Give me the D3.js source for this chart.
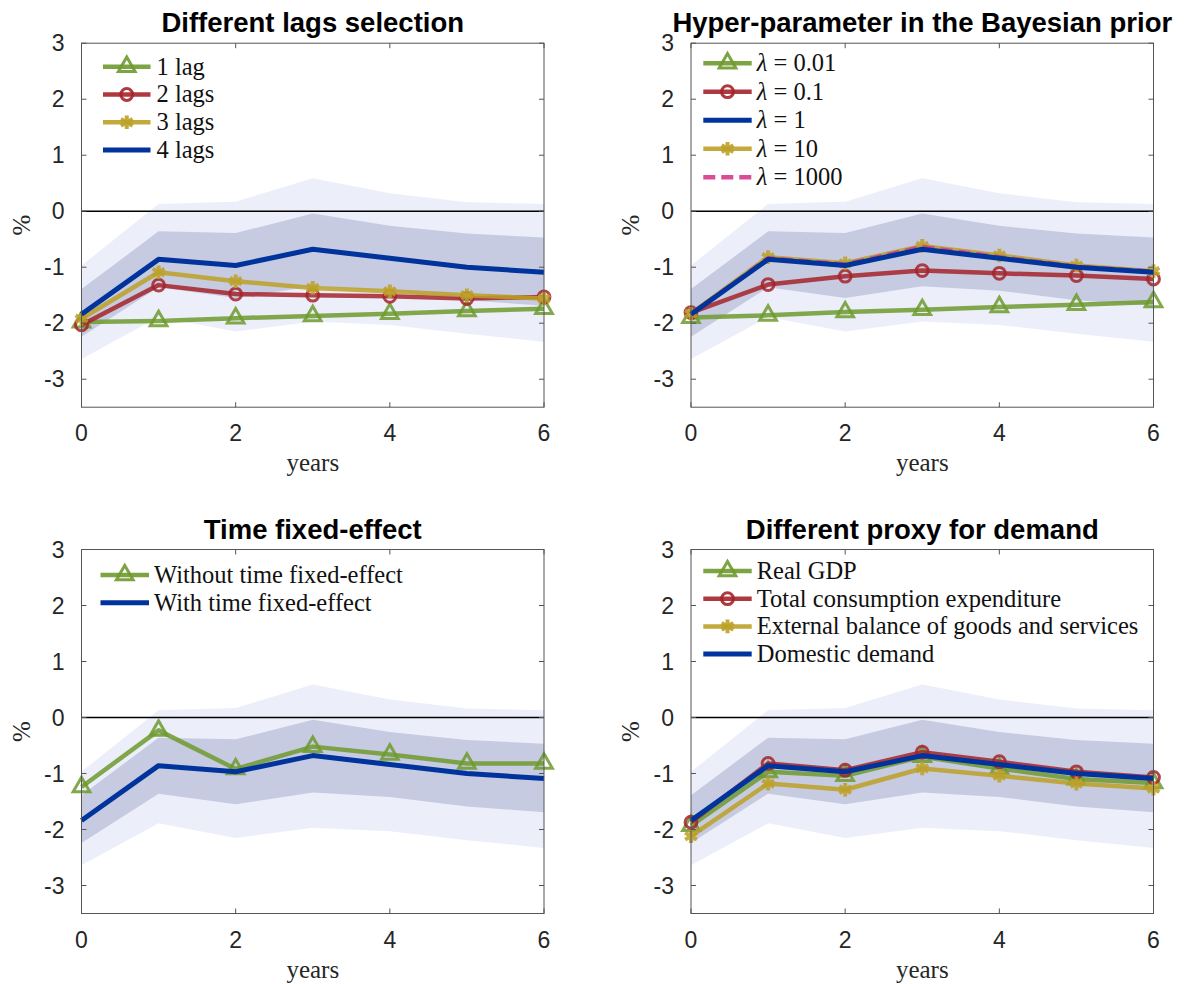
<!DOCTYPE html>
<html>
<head>
<meta charset="utf-8">
<script src="https://cdn.jsdelivr.net/npm/d3@7/dist/d3.min.js"></script>
<style>
  body { margin: 0; background: #fff; }
</style>
</head>
<body>
<svg id="chart" width="1190" height="984"></svg>
<script>
// horizon in years
let years = [0, 1, 2, 3, 4, 5, 6];
let xTicks = [0, 2, 4, 6];
let yTicks = [-3, -2, -1, 0, 1, 2, 3];

// baseline (blue) and its confidence bands, same in every panel
let baseline   = [-1.84, -0.86, -0.97, -0.68, -0.84, -1.00, -1.09];
let innerUpper = [-1.39, -0.36, -0.39, -0.04, -0.26, -0.40, -0.47];
let innerLower = [-2.24, -1.36, -1.55, -1.34, -1.42, -1.59, -1.69];
let outerUpper = [-0.97,  0.13,  0.17,  0.59,  0.32,  0.16,  0.13];
let outerLower = [-2.64, -1.89, -2.15, -1.97, -2.03, -2.19, -2.33];

// panel 1 : lags
let lag1 = [-1.98, -1.96, -1.91, -1.87, -1.83, -1.78, -1.74];
let lag2 = [-2.03, -1.32, -1.48, -1.50, -1.52, -1.56, -1.53];
let lag3 = [-1.92, -1.09, -1.25, -1.37, -1.43, -1.50, -1.56];

// panel 2 : lambda
let lam001  = [-1.90, -1.86, -1.80, -1.76, -1.71, -1.67, -1.62];
let lam01   = [-1.81, -1.31, -1.16, -1.06, -1.11, -1.15, -1.21];
let lam10   = [-1.83, -0.82, -0.93, -0.62, -0.79, -0.97, -1.07];
let lam1000 = [-1.84, -0.84, -0.95, -0.64, -0.82, -0.99, -1.08];

// panel 3 : time fixed effect
let noTimeFE = [-1.24, -0.23, -0.92, -0.52, -0.66, -0.82, -0.82];

// panel 4 : demand proxies
let realGDP   = [-1.93, -0.97, -1.04, -0.70, -0.91, -1.10, -1.17];
let totalCons = [-1.87, -0.82, -0.94, -0.62, -0.79, -0.97, -1.07];
let extBal    = [-2.12, -1.18, -1.29, -0.91, -1.04, -1.18, -1.27];

let green = "#6f9a2e", red = "#a5232a", gold = "#bca127", blue = "#00349c", pink = "#d8378a";

let panels = [
  {title: "Different lags selection", left: 81.5, top: 43.2,
   leg: {x1: 21.5, x2: 69, tx: 75, y0: 23.5, dy: 27.8},
   series: [
     {name: "1 lag", v: lag1, c: green, m: "tri"},
     {name: "2 lags", v: lag2, c: red, m: "circ"},
     {name: "3 lags", v: lag3, c: gold, m: "star"},
     {name: "4 lags", v: baseline, c: blue, m: null, base: true}
   ]},
  {title: "Hyper-parameter in the Bayesian prior", left: 691, top: 43.2,
   leg: {x1: 12.3, x2: 60.7, tx: 65.7, y0: 20, dy: 28.5},
   series: [
     {name: "0.01", lam: true, v: lam001, c: green, m: "tri"},
     {name: "0.1", lam: true, v: lam01, c: red, m: "circ"},
     {name: "1", lam: true, v: baseline, c: blue, m: null, base: true},
     {name: "10", lam: true, v: lam10, c: gold, m: "star"},
     {name: "1000", lam: true, v: lam1000, c: pink, m: null, dash: true}
   ]},
  {title: "Time fixed-effect", left: 81.5, top: 549.5,
   leg: {x1: 19, x2: 67.5, tx: 72.5, y0: 25.5, dy: 27.7},
   series: [
     {name: "Without time fixed-effect", v: noTimeFE, c: green, m: "tri"},
     {name: "With time fixed-effect", v: baseline, c: blue, m: null, base: true}
   ]},
  {title: "Different proxy for demand", left: 691, top: 549.5,
   leg: {x1: 12.3, x2: 60.7, tx: 65.7, y0: 21.5, dy: 27.7},
   series: [
     {name: "Real GDP", v: realGDP, c: green, m: "tri"},
     {name: "Total consumption expenditure", v: totalCons, c: red, m: "circ"},
     {name: "External balance of goods and services", v: extBal, c: gold, m: "star"},
     {name: "Domestic demand", v: baseline, c: blue, m: null, base: true}
   ]}
];

let W = 462.5, H = 364;
let sans = "'Liberation Sans', Arial, Helvetica, sans-serif";
let serif = "'Liberation Serif', 'Times New Roman', serif";

let svg = d3.select("#chart");

let x = d3.scaleLinear().domain([0, 6]).range([0, W]);
let y = d3.scaleLinear().domain([-3.5, 3]).range([H, 0]);

let symbols = {
  tri: d3.symbol().type(d3.symbolTriangle).size(120),
  circ: d3.symbol().type(d3.symbolCircle).size(110),
  star: d3.symbol().type(d3.symbolAsterisk).size(130)
};

function drawMarker(g, type, color, cx, cy, op) {
  g.append("path")
    .attr("d", symbols[type]())
    .attr("transform", "translate(" + cx + "," + cy + ")")
    .attr("fill", "none")
    .attr("stroke", color)
    .attr("stroke-width", type == "star" ? 4 : 3)
    .attr("stroke-opacity", op);
}

panels.forEach(p => {
  let g = svg.append("g").attr("transform", "translate(" + p.left + "," + p.top + ")");

  // bands
  let area = (lo, hi) => d3.area().x((d, i) => x(years[i])).y0((d, i) => y(lo[i])).y1((d, i) => y(hi[i]));
  g.append("path").datum(years).attr("d", area(outerLower, outerUpper)).attr("fill", "#eceefa");
  g.append("path").datum(years).attr("d", area(innerLower, innerUpper)).attr("fill", "#c7cbe1");

  // zero line
  g.append("line").attr("x1", 0).attr("x2", W).attr("y1", y(0)).attr("y2", y(0))
    .attr("stroke", "#000").attr("stroke-width", 1.5);

  let line = d3.line().x((d, i) => x(years[i])).y(d => y(d));

  // other series first, baseline on top
  let order = p.series.filter(s => !s.base).concat(p.series.filter(s => s.base));
  order.forEach(s => {
    let op = s.base ? 1 : 0.85;
    g.append("path").datum(s.v).attr("d", line)
      .attr("fill", "none")
      .attr("stroke", s.c)
      .attr("stroke-width", s.base ? 5 : 4.5)
      .attr("stroke-opacity", op)
      .attr("stroke-dasharray", s.dash ? "12,6" : null)
      .attr("stroke-linejoin", "round");
    if (s.m) s.v.forEach((d, i) => drawMarker(g, s.m, s.c, x(years[i]), y(d), op));
  });

  // box and ticks
  g.append("rect").attr("width", W).attr("height", H)
    .attr("fill", "none").attr("stroke", "#555").attr("stroke-width", 1);
  let tk = 5;
  xTicks.forEach(t => {
    g.append("line").attr("x1", x(t)).attr("x2", x(t)).attr("y1", H).attr("y2", H - tk).attr("stroke", "#555");
    g.append("line").attr("x1", x(t)).attr("x2", x(t)).attr("y1", 0).attr("y2", tk).attr("stroke", "#555");
    g.append("text").attr("x", x(t)).attr("y", H + 34)
      .attr("text-anchor", "middle").attr("font-family", sans).attr("font-size", 23).attr("fill", "#262626")
      .text(t);
  });
  yTicks.forEach(t => {
    g.append("line").attr("x1", 0).attr("x2", tk).attr("y1", y(t)).attr("y2", y(t)).attr("stroke", "#555");
    g.append("line").attr("x1", W).attr("x2", W - tk).attr("y1", y(t)).attr("y2", y(t)).attr("stroke", "#555");
    g.append("text").attr("x", -17).attr("y", y(t) + 8)
      .attr("text-anchor", "end").attr("font-family", sans).attr("font-size", 23).attr("fill", "#262626")
      .text(t);
  });

  // labels
  g.append("text").attr("x", W / 2).attr("y", -11)
    .attr("text-anchor", "middle").attr("font-family", sans).attr("font-weight", "bold")
    .attr("font-size", 27.5).attr("fill", "#000").text(p.title);
  g.append("text").attr("x", W / 2).attr("y", H + 64)
    .attr("text-anchor", "middle").attr("font-family", serif).attr("font-size", 25).attr("fill", "#262626")
    .text("years");
  g.append("text").attr("transform", "translate(-52," + (H / 2) + ") rotate(-90)")
    .attr("text-anchor", "middle").attr("font-family", serif).attr("font-size", 25).attr("fill", "#262626")
    .text("%");

  // legend
  let L = p.leg;
  p.series.forEach((s, i) => {
    let ly = L.y0 + i * L.dy;
    let op = s.base ? 1 : 0.9;
    g.append("line").attr("x1", L.x1).attr("x2", L.x2).attr("y1", ly).attr("y2", ly)
      .attr("stroke", s.c).attr("stroke-width", s.base ? 5 : 4.5).attr("stroke-opacity", op)
      .attr("stroke-dasharray", s.dash ? "12,6" : null);
    if (s.m) drawMarker(g, s.m, s.c, (L.x1 + L.x2) / 2, ly, op);
    let t = g.append("text").attr("x", L.tx).attr("y", ly + 8)
      .attr("font-family", serif).attr("font-size", 24.5).attr("fill", "#111");
    if (s.lam) {
      t.append("tspan").attr("font-style", "italic").text("λ");
      t.append("tspan").text(" = " + s.name);
    } else {
      t.text(s.name);
    }
  });
});
</script>
</body>
</html>
